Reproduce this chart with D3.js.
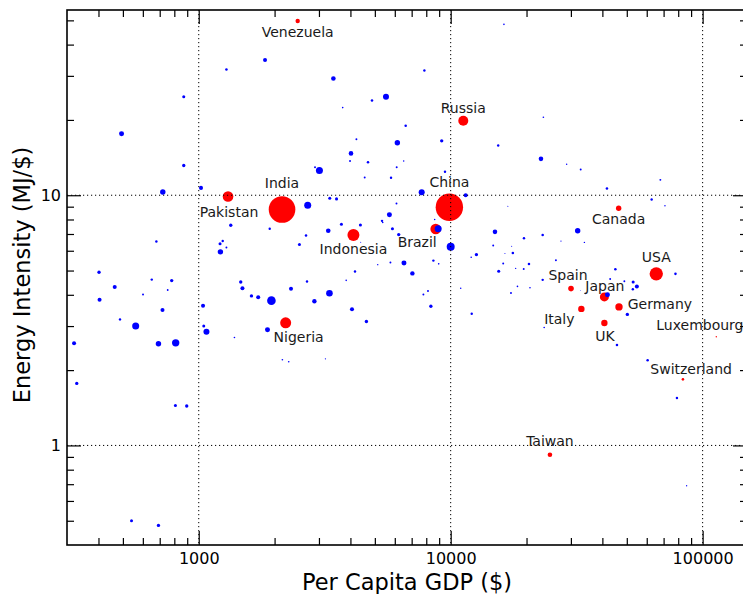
<!DOCTYPE html>
<html>
<head>
<meta charset="utf-8">
<script src="https://cdn.jsdelivr.net/npm/d3@7"></script>
<style>
  html, body { margin: 0; padding: 0; background: #fff; }
  svg { display: block; font-family: "DejaVu Sans", sans-serif; }
</style>
</head>
<body>
<svg id="chart" width="743" height="594"></svg>
<script>
// ---------- DATA ----------
// Labelled (highlighted) countries
const labeledCountries = ["Venezuela","Russia","India","China","Pakistan","Indonesia","Brazil","Nigeria","Canada","USA","Spain","Japan","Germany","Italy","UK","Luxembourg","Switzerland","Taiwan"];
const labeledGdp      = [2470, 11220, 2141, 9881, 1307, 4111, 8720, 2213, 46420, 65460, 30030, 40740, 46560, 33010, 40740, 113300, 83530, 24770];
const labeledEnergy   = [49.7, 19.85, 8.77, 8.95, 9.88, 6.94, 7.33, 3.09, 8.87, 4.85, 4.235, 3.924, 3.578, 3.513, 3.087, 2.72, 1.837, 0.918];
const labeledPop      = [36, 185, 1310, 1390, 208, 266, 208, 224, 54, 330, 58, 150, 101, 76, 76, 3.6, 12.5, 39];

// Other countries
const otherGdp = [1288,872,494,872,720,1021,1340,679,1215,1245,1288,1219,402,464,651,781,753,601,1468,1491,1619,1722,404,1040,718,487,562,1047,1073,320,692,810,1386,328,808,896,541,692,
1833,3423,7864,5536,4872,3727,6628,6143,9211,4225,4021,3985,4697,3013,2894,6105,6508,9493,4557,5797,7672,11470,15440,2707,3311,3523,6094,5713,1913,3266,3684,4382,2666,2510,5339,5373,5872,6218,8920,10000,8640,14990,14750,12650,12060,15510,6526,7047,8537,8963,5765,5133,4171,3848,2690,2324,3302,2878,1943,7793,8127,10960,4058,4629,1875,8344,12120,2148,2276,3183,4394,
16270,23330,22820,28860,32810,67950,41710,62750,70870,16860,31920,23180,19540,27400,33940,17460,17650,16420,16160,20450,26160,19490,18110,23180,78010,45040,42950,48900,52990,54820,52840,17350,18410,20640,41900,34240,32710,50250,23500,45710,60490,79070,86400];
const otherEnergy = [31.8,24.75,17.6,13.15,10.3,10.7,7.59,6.53,6.40,6.56,6.18,5.94,4.92,4.30,4.60,4.56,4.18,4.01,4.50,4.25,3.96,3.91,3.82,3.62,3.48,3.19,3.00,3.00,2.85,2.56,2.55,2.57,2.70,1.77,1.445,1.437,0.500,0.479,
34.7,29.3,31.5,24.75,23.9,22.4,18.95,16.2,16.5,16.75,14.7,13.7,13.55,12.56,12.94,12.94,13.7,12.41,11.77,11.74,10.28,10.0,15.8,9.12,9.73,9.67,9.26,8.35,7.34,7.21,7.65,7.60,6.90,6.36,7.90,7.78,7.35,6.96,7.35,6.22,8.0,7.14,6.30,5.79,5.65,4.97,5.36,4.87,5.48,5.32,5.38,5.28,4.96,4.57,4.52,4.23,4.06,3.77,3.79,4.01,4.14,4.25,3.50,3.13,2.90,3.60,3.36,2.20,2.16,2.22,6.49,
48.2,20.5,13.98,13.3,12.67,11.52,10.64,9.61,9.07,9.03,7.21,6.93,6.73,6.56,6.48,6.25,5.88,5.85,5.34,5.31,5.50,5.07,5.10,4.59,4.85,5.06,4.63,4.53,4.50,4.32,4.21,4.07,4.32,4.27,4.00,4.05,4.17,3.34,2.96,2.52,2.19,1.547,0.690];
const otherPop = [12,17,46,21,54,30,21,11,17,11,7,54,21,30,11,21,6,7,21,30,21,30,30,30,30,11,91,17,67,30,54,101,5,21,17,21,17,21,
30,39,11,67,12,5,12,54,21,7,39,7,12,91,7,7,4,11,7,11,67,30,11,91,17,17,7,46,11,39,17,17,12,17,11,5,17,21,91,118,4,39,7,21,5,17,46,36,11,5,7,4,11,5,11,30,81,36,137,7,7,4,30,21,46,21,11,5,5,3,2,
5,5,39,4,7,7,12,11,4,2,54,12,11,3,4,2,12,2,7,12,7,7,3,11,12,12,7,7,17,30,11,7,5,5,46,5,1.2,21,5,12,12,11,3];

// Axis ticks
const xMajorTicks = [1000, 10000, 100000];
const xMinorTicks = [400,500,600,700,800,900,2000,3000,4000,5000,6000,7000,8000,9000,20000,30000,40000,50000,60000,70000,80000,90000];
const yMajorTicks = [1, 10];
const yMinorTicks = [0.5,0.6,0.7,0.8,0.9,2,3,4,5,6,7,8,9,20,30,40,50];

// Label placement (layout only, pixel offsets from marker centre)
const labelLayout = {
  Venezuela:   {dx: 0,   dy: 16,   anchor: "middle"},
  Russia:      {dx: 0,   dy: -8,   anchor: "middle"},
  India:       {dx: 0,   dy: -21,  anchor: "middle"},
  China:       {dx: 0,   dy: -20,  anchor: "middle"},
  Pakistan:    {dx: 1,   dy: 20,   anchor: "middle"},
  Indonesia:   {dx: 0,   dy: 19,   anchor: "middle"},
  Brazil:      {dx: -18.5, dy: 18, anchor: "middle"},
  Nigeria:     {dx: 13,  dy: 19.5, anchor: "middle"},
  Canada:      {dx: 0,   dy: 15.7, anchor: "middle"},
  USA:         {dx: 0,   dy: -12,  anchor: "middle"},
  Spain:       {dx: -3,  dy: -9,   anchor: "middle"},
  Japan:       {dx: 0.5, dy: -6,   anchor: "middle"},
  Germany:     {dx: 8.7, dy: 2,    anchor: "start"},
  Italy:       {dx: -22, dy: 15,   anchor: "middle"},
  UK:          {dx: 0.6, dy: 17.7, anchor: "middle"},
  Luxembourg:  {dx: -16.4, dy: -7, anchor: "middle"},
  Switzerland: {dx: 8.2, dy: -5.4, anchor: "middle"},
  Taiwan:      {dx: 0,   dy: -8.3, anchor: "middle"}
};

// ---------- CHART ----------
const W = 743, H = 594;
const plot = {left: 67, right: 747, top: 10, bottom: 545};
const svg = d3.select("#chart");

const x = d3.scaleLog().domain([300, 150000]).range([plot.left, plot.right]);
const y = d3.scaleLog().domain([0.4, 55]).range([plot.bottom, plot.top]);
const r = d3.scaleSqrt().domain([0, 1390]).range([0, 13.7]);

const others = otherGdp.map((g, i) => ({gdp: g, energy: otherEnergy[i], pop: otherPop[i]}));
const labeled = labeledCountries.map((c, i) => ({name: c, gdp: labeledGdp[i], energy: labeledEnergy[i], pop: labeledPop[i]}));

const clip = svg.append("defs").append("clipPath").attr("id", "plotclip")
  .append("rect").attr("x", plot.left).attr("y", plot.top)
  .attr("width", plot.right - plot.left).attr("height", plot.bottom - plot.top);

const pts = svg.append("g").attr("clip-path", "url(#plotclip)");

pts.selectAll("circle.lab").data(labeled).join("circle")
  .attr("class", "lab")
  .attr("cx", d => x(d.gdp)).attr("cy", d => y(d.energy)).attr("r", d => r(d.pop))
  .attr("fill", "#ff0000");

pts.selectAll("circle.oth").data(others).join("circle")
  .attr("class", "oth")
  .attr("cx", d => x(d.gdp)).attr("cy", d => y(d.energy)).attr("r", d => r(d.pop))
  .attr("fill", "#0000ff");

// Grid (dotted, over points)
const grid = svg.append("g").attr("stroke", "#000").attr("stroke-width", 1).attr("stroke-dasharray", "1.2,2.8");
grid.selectAll("line.gx").data(xMajorTicks).join("line")
  .attr("x1", d => x(d)).attr("x2", d => x(d)).attr("y1", plot.top).attr("y2", plot.bottom);
grid.selectAll("line.gy").data(yMajorTicks).join("line")
  .attr("y1", d => y(d)).attr("y2", d => y(d)).attr("x1", plot.left).attr("x2", plot.right);

// Labels
svg.append("g").selectAll("text").data(labeled).join("text")
  .attr("x", d => x(d.gdp) + labelLayout[d.name].dx)
  .attr("y", d => y(d.energy) + labelLayout[d.name].dy)
  .attr("text-anchor", d => labelLayout[d.name].anchor)
  .attr("font-size", 14).attr("fill", "#1a1a1a")
  .text(d => d.name);

// Axes
function styleAxis(g) {
  g.select(".domain").remove();
  g.selectAll(".tick line").attr("stroke", "#000").attr("stroke-width", 1.2);
  g.selectAll(".tick text").attr("fill", "#000").attr("font-size", 16).attr("font-family", "DejaVu Sans, sans-serif");
}
const fmt = d => d3.format("d")(d);
// bottom
svg.append("g").attr("transform", `translate(0,${plot.bottom})`)
  .call(d3.axisBottom(x).tickValues(xMajorTicks).tickFormat(fmt).tickSizeInner(-14).tickSizeOuter(0).tickPadding(8))
  .call(styleAxis);
svg.append("g").attr("transform", `translate(0,${plot.bottom})`)
  .call(d3.axisBottom(x).tickValues(xMinorTicks).tickFormat("").tickSizeInner(-7).tickSizeOuter(0))
  .call(styleAxis);
// top
svg.append("g").attr("transform", `translate(0,${plot.top})`)
  .call(d3.axisTop(x).tickValues(xMajorTicks).tickFormat("").tickSizeInner(-14).tickSizeOuter(0))
  .call(styleAxis);
svg.append("g").attr("transform", `translate(0,${plot.top})`)
  .call(d3.axisTop(x).tickValues(xMinorTicks).tickFormat("").tickSizeInner(-7).tickSizeOuter(0))
  .call(styleAxis);
// left
svg.append("g").attr("transform", `translate(${plot.left},0)`)
  .call(d3.axisLeft(y).tickValues(yMajorTicks).tickFormat(fmt).tickSizeInner(-14).tickSizeOuter(0).tickPadding(6))
  .call(styleAxis);
svg.append("g").attr("transform", `translate(${plot.left},0)`)
  .call(d3.axisLeft(y).tickValues(yMinorTicks).tickFormat("").tickSizeInner(-7).tickSizeOuter(0))
  .call(styleAxis);
// right
svg.append("g").attr("transform", `translate(${plot.right},0)`)
  .call(d3.axisRight(y).tickValues(yMajorTicks).tickFormat("").tickSizeInner(-14).tickSizeOuter(0))
  .call(styleAxis);
svg.append("g").attr("transform", `translate(${plot.right},0)`)
  .call(d3.axisRight(y).tickValues(yMinorTicks).tickFormat("").tickSizeInner(-7).tickSizeOuter(0))
  .call(styleAxis);

// Frame
svg.append("rect")
  .attr("x", plot.left).attr("y", plot.top)
  .attr("width", plot.right - plot.left).attr("height", plot.bottom - plot.top)
  .attr("fill", "none").attr("stroke", "#000").attr("stroke-width", 1.6);

// Axis titles
svg.append("text")
  .attr("x", (plot.left + plot.right) / 2).attr("y", 590)
  .attr("text-anchor", "middle").attr("font-size", 22.5).attr("fill", "#000")
  .text("Per Capita GDP ($)");
svg.append("text")
  .attr("transform", "translate(29.5,275) rotate(-90)")
  .attr("text-anchor", "middle").attr("font-size", 22.5).attr("fill", "#000")
  .text("Energy Intensity (MJ/$)");
</script>
</body>
</html>
